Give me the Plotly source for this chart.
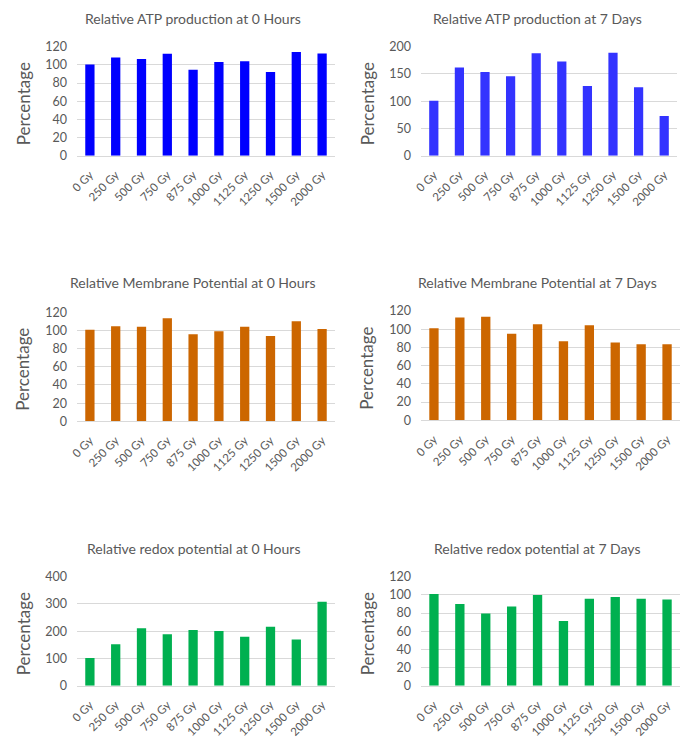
import plotly.graph_objects as go

# Doses on the x axis
doses = ["0 Gy", "250 Gy", "500 Gy", "750 Gy", "875 Gy",
         "1000 Gy", "1125 Gy", "1250 Gy", "1500 Gy", "2000 Gy"]

# Relative values (% of 0 Gy control)
atp_0h = [100.5, 108, 106.4, 112.3, 94.7, 103.1, 103.9, 92.1, 114.1, 112.5]
atp_7d = [101, 162, 153.5, 146, 187.8, 173, 127.8, 189, 125.4, 72.8]
mem_0h = [100.9, 104.6, 104.2, 113.4, 95.8, 99, 104.2, 93.9, 110.1, 101.6]
mem_7d = [101, 113, 113.8, 95.1, 105.4, 86.7, 104.3, 85.3, 83.4, 83.4]
redox_0h = [101.5, 151.7, 210.4, 188.4, 204.3, 200.6, 179.8, 216.5, 170, 308.3]
redox_7d = [100.9, 89.9, 79.6, 87.3, 99.8, 71.2, 95.8, 97.6, 95.8, 95]

titles = [
    "Relative ATP production at 0 Hours",
    "Relative ATP production at 7 Days",
    "Relative Membrane Potential at 0 Hours",
    "Relative Membrane Potential at 7 Days",
    "Relative redox potential at 0 Hours",
    "Relative redox potential at 7 Days",
]
series = [atp_0h, atp_7d, mem_0h, mem_7d, redox_0h, redox_7d]
colors = ["#0000FF", "#3333FF", "#CC6600", "#CC6600", "#00B050", "#00B050"]
y_max = [120, 200, 120, 120, 400, 120]
y_step = [20, 50, 20, 20, 100, 20]

W, H = 684, 738
# plot boxes in pixels: (left, right, top, bottom)
boxes = [
    (77, 335, 46.7, 155.7),
    (421, 677, 46.7, 155.7),
    (77, 335, 312.3, 421.3),
    (421, 680, 311, 420.3),
    (77, 335, 576.7, 685.7),
    (421, 680, 576.7, 685.7),
]
title_pos = [(193, 18), (537, 18), (193, 283), (537, 282), (193, 548), (537, 548)]
ytitle_x = [23, 367, 23, 367, 23, 367]

GRAY = "#595959"
FONT = "Lato"

fig = go.Figure()
layout = dict(
    width=W, height=H,
    margin=dict(l=0, r=0, t=0, b=0, pad=0),
    paper_bgcolor="white", plot_bgcolor="white",
    showlegend=False, bargap=0.64,
    font=dict(family=FONT, color=GRAY),
)
annotations = []

for i, (vals, col) in enumerate(zip(series, colors)):
    n = i + 1
    xa = "x" if n == 1 else f"x{n}"
    ya = "y" if n == 1 else f"y{n}"
    fig.add_trace(go.Bar(x=doses, y=vals, marker=dict(color=col, line=dict(width=0)),
                         xaxis=xa, yaxis=ya, hoverinfo="x+y"))
    l, r, t, b = boxes[i]
    layout["xaxis" if n == 1 else f"xaxis{n}"] = dict(
        domain=[l / W, r / W], anchor=ya, automargin=False,
        tickangle=-45, tickfont=dict(size=11.5, color=GRAY, family=FONT),
        showgrid=False, showline=True, linecolor="#D9D9D9", linewidth=1,
        ticks="", ticklabelstandoff=7, fixedrange=True,
    )
    layout["yaxis" if n == 1 else f"yaxis{n}"] = dict(
        domain=[1 - b / H, 1 - t / H], anchor=xa, automargin=False,
        range=[0, y_max[i]], dtick=y_step[i], tick0=0,
        showgrid=True, gridcolor="#D9D9D9", gridwidth=1,
        zeroline=False, showline=False, ticks="",
        tickfont=dict(size=12.5, color=GRAY, family=FONT),
        ticklabelstandoff=9, fixedrange=True,
    )
    tx, ty = title_pos[i]
    annotations.append(dict(
        text=titles[i], x=tx / W, y=1 - ty / H, xref="paper", yref="paper",
        xanchor="center", yanchor="middle", showarrow=False,
        font=dict(size=14, color=GRAY, family=FONT),
    ))
    annotations.append(dict(
        text="Percentage", x=ytitle_x[i] / W, y=1 - ((t + b) / 2 + 3) / H,
        xref="paper", yref="paper", xanchor="center", yanchor="middle",
        textangle=-90, showarrow=False,
        font=dict(size=17, color=GRAY, family=FONT),
    ))

layout["annotations"] = annotations
fig.update_layout(**layout)
fig.write_html("out.html")
